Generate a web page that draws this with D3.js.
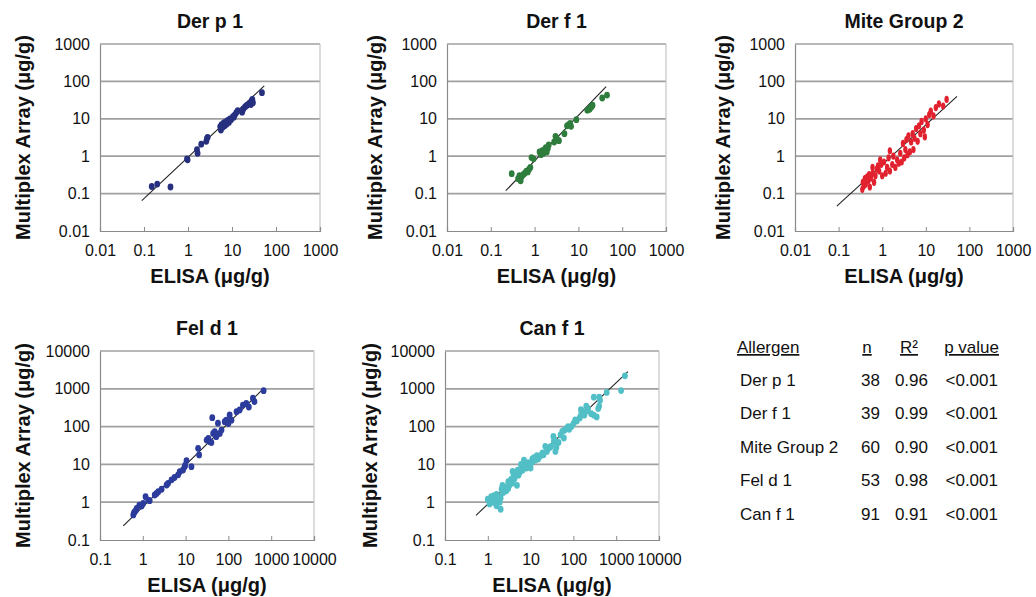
<!DOCTYPE html>
<html lang="en">
<head>
  <meta charset="UTF-8">
  <title>Multiplex Array vs ELISA</title>
  <script src="https://d3js.org/d3.v7.min.js"></script>
  <style>
    body {
      margin: 0;
      background: #fff;
      font-family: "Liberation Sans", Arial, sans-serif;
    }
    svg {
      display: block;
    }
    .grid line {
      stroke: #a0a0a0;
      stroke-width: 1.7;
    }
    .tick-label {
      font-size: 16px;
      fill: #111;
    }
    .panel-title, .axis-title {
      font-weight: bold;
      fill: #111;
    }
    .table text {
      font-size: 17px;
      fill: #111;
    }
  </style>
</head>
<body>
<svg width="1036" height="597"></svg>
<script>
  // Panel titles and colours
  const titles = ["Der p 1", "Der f 1", "Mite Group 2", "Fel d 1", "Can f 1"];
  const colors = ["#26307f", "#2e7d3c", "#e1222e", "#2b3c9c", "#52bfc6"];

  // Axis ticks (decades)
  const miteTicks = [0.01, 0.1, 1, 10, 100, 1000];
  const petTicks = [0.1, 1, 10, 100, 1000, 10000];

  // ELISA (x) vs Multiplex Array (y), ug/g
  const derP1 = [[0.15,0.155],[0.2,0.18],[0.4,0.15],[0.95,0.85],[0.98,0.8],[1.6,1.5],[1.65,1.2],
    [2.0,2.1],[2.6,2.5],[2.7,3.0],[2.8,3.2],[5.4,6.2],[5.6,5.0],[5.8,7.0],[6.2,6.0],[6.5,7.8],
    [6.8,6.5],[7.2,8.2],[7.5,7.2],[8.0,9.0],[8.5,8.0],[9.0,10],[9.5,9.5],[10.5,11.5],[11.5,12.5],
    [12.5,14.5],[13.5,16.5],[11,11],[17,15],[18,18],[20,21],[22,23],[25,26],[27,24],[28,30],
    [29,33],[30,27],[48,50]];

  const derF1 = [[0.3,0.34],[0.42,0.25],[0.45,0.3],[0.48,0.22],[0.5,0.28],[0.55,0.32],[0.6,0.35],
    [0.65,0.4],[0.7,0.38],[0.75,0.45],[0.8,0.5],[0.85,0.92],[0.95,0.85],[1.3,1.3],[1.4,1.1],
    [1.5,1.4],[1.6,1.2],[1.7,1.5],[1.8,1.7],[2.0,1.6],[1.9,1.3],[2.1,2.0],[2.8,2.4],[3.0,3.4],
    [3.2,3.0],[3.6,2.6],[4.8,4.0],[5.5,6.5],[6.0,7.0],[6.5,7.5],[6.8,6.3],[9,9.5],[16,17],
    [18,18],[19,20],[20,21],[21,23],[35,36],[45,43]];

  const miteGroup2 = [[0.35,0.13],[0.36,0.2],[0.38,0.16],[0.4,0.25],[0.42,0.18],[0.45,0.28],
    [0.48,0.22],[0.5,0.32],[0.52,0.15],[0.55,0.26],[0.6,0.35],[0.6,0.5],[0.65,0.2],[0.7,0.3],
    [0.75,0.45],[0.8,0.55],[0.85,0.4],[0.9,0.8],[0.95,0.6],[1.0,0.3],[1.1,0.7],[1.2,0.35],
    [1.3,0.5],[1.4,0.9],[1.5,1.4],[1.5,0.4],[1.7,0.6],[1.8,1.0],[2.0,0.5],[2.2,0.8],[2.4,0.65],
    [2.6,1.2],[2.8,0.7],[3.0,2.2],[3.2,0.9],[3.4,1.5],[3.6,2.8],[3.8,1.1],[4.0,3.5],[4.3,1.3],
    [4.6,2.4],[5.0,4.0],[5.2,1.5],[5.5,3.0],[6.0,5.5],[6.5,2.5],[7.0,6.5],[7.5,4.0],[8.0,8.5],
    [9.0,5.0],[9.5,3.3],[10,10],[11,7],[12,13],[13,16],[15,12],[17,20],[20,25],[25,22],[30,33]];

  const felD1 = [[0.6,0.46],[0.62,0.52],[0.65,0.56],[0.7,0.62],[0.72,0.69],[0.83,0.84],[0.94,0.79],
    [1.02,0.93],[1.16,1.4],[1.34,1.14],[1.45,1.1],[1.9,1.55],[2.1,1.7],[2.3,1.9],[2.75,2.2],
    [3.6,2.85],[3.9,3.15],[4.7,3.9],[5.5,4.5],[6.7,5.3],[7.3,6.4],[8.7,7.1],[9.5,8.7],[10.5,12.6],
    [9.8,9.5],[13.7,8.7],[19.6,26.6],[20.7,17.8],[31,44],[34,49],[37,40],[42,172],[44,66],[48,73],
    [52,54],[57,123],[63,66],[69,81],[55,62],[82,135],[89,149],[107,203],[118,148],[100,120],
    [155,248],[183,275],[218,370],[262,412],[374,562],[406,460],[665,890],[300,330],[40,38]];

  const canF1 = [[1.0,1.2],[1.1,0.9],[1.2,1.0],[1.2,1.4],[1.3,1.1],[1.4,1.5],[1.5,1.3],[1.5,0.95],
    [1.6,1.6],[1.6,0.8],[1.7,1.2],[1.8,1.4],[1.9,1.0],[2.0,0.65],[2.0,1.3],[2.1,2.2],[2.2,2.8],
    [2.3,1.8],[2.5,2.5],[2.7,2.0],[3.0,2.3],[3.0,3.5],[3.2,2.8],[3.5,4.0],[3.8,6.5],[3.8,3.2],
    [4.0,5.0],[4.2,4.2],[4.5,6.0],[4.8,2.8],[5.0,7.0],[5.2,5.2],[5.5,6.0],[6.0,8.0],[6.0,10],
    [6.5,7.0],[7.0,13],[7.0,9.0],[7.5,10.5],[8.0,8.0],[8.5,11],[9.0,11],[10,10],[10,8.0],[11,12],
    [11,14],[12,15],[13,13],[14,17],[15,14],[16,16],[17,17],[19,20],[20,18],[22,30],[24,22],
    [25,25],[28,28],[30,30],[34,55],[35,40],[36,45],[38,22],[40,28],[45,38],[50,60],[55,75],
    [60,50],[62,80],[70,90],[75,100],[80,85],[90,100],[100,120],[110,150],[120,140],[140,170],
    [150,200],[150,280],[160,260],[180,200],[200,350],[210,260],[220,300],[260,220],[300,600],
    [300,200],[350,180],[380,300],[400,350],[400,600],[420,500],[600,800],[1300,900],[1600,2200]];

  // Trend line end points [x0, y0, x1, y1]
  const fits = [
    [0.089, 0.065, 54, 76],
    [0.22, 0.12, 43, 73],
    [0.091, 0.046, 52, 40],
    [0.35, 0.235, 665, 1020],
    [0.53, 0.45, 1880, 2840]
  ];

  // Summary table
  const tableAllergen = ["Der p 1", "Der f 1", "Mite Group 2", "Fel d 1", "Can f 1"];
  const tableN = [38, 39, 60, 53, 91];
  const tableR2 = ["0.96", "0.99", "0.90", "0.98", "0.91"];
  const tableP = ["<0.001", "<0.001", "<0.001", "<0.001", "<0.001"];

  const datasets = [derP1, derF1, miteGroup2, felD1, canF1];

  // Plot-area boxes (pixels)
  const boxes = [
    {l: 100, r: 320, t: 44, b: 231, ticks: miteTicks, yt: 23},
    {l: 447, r: 666, t: 44, b: 231, ticks: miteTicks, yt: 375},
    {l: 795, r: 1013, t: 44, b: 231, ticks: miteTicks, yt: 723},
    {l: 100, r: 314, t: 351, b: 540, ticks: petTicks, yt: 23},
    {l: 445, r: 659, t: 351, b: 540, ticks: petTicks, yt: 370}
  ];

  const svg = d3.select("svg");

  boxes.forEach((bx, i) => {
    const ticks = bx.ticks;
    const dom = [ticks[0], ticks[ticks.length - 1]];
    const x = d3.scaleLog().domain(dom).range([bx.l, bx.r]);
    const y = d3.scaleLog().domain(dom).range([bx.b, bx.t]);
    const g = svg.append("g");

    // horizontal gridlines
    g.append("g").attr("class", "grid")
      .selectAll("line")
      .data(ticks.slice(1))
      .join("line")
      .attr("x1", bx.l).attr("x2", bx.r)
      .attr("y1", d => y(d)).attr("y2", d => y(d));

    // right border
    g.append("line")
      .attr("x1", bx.r).attr("x2", bx.r).attr("y1", bx.t).attr("y2", bx.b)
      .attr("stroke", "#c4c4c4").attr("stroke-width", 1.2);

    // axes
    const xAxis = d3.axisBottom(x).tickValues(ticks).tickSize(-4).tickFormat(d => String(d)).tickPadding(10);
    const xg = g.append("g").attr("transform", `translate(0,${bx.b})`).call(xAxis);
    xg.select(".domain").attr("stroke", "#8a8a8a").attr("stroke-width", 1.2);
    xg.selectAll(".tick line").attr("stroke", "#8a8a8a");
    xg.selectAll(".tick text").attr("class", "tick-label").attr("font-family", null)
      .attr("font-size", null).attr("dy", "0.95em");

    const yAxis = d3.axisLeft(y).tickValues(ticks).tickSize(0).tickFormat(d => String(d)).tickPadding(10);
    const yg = g.append("g").attr("transform", `translate(${bx.l},0)`).call(yAxis);
    yg.select(".domain").attr("stroke", "#8a8a8a").attr("stroke-width", 1.2);
    yg.selectAll(".tick text").attr("class", "tick-label").attr("font-family", null)
      .attr("font-size", null);

    // trend line
    const f = fits[i];
    g.append("line")
      .attr("x1", x(f[0])).attr("y1", y(f[1]))
      .attr("x2", x(f[2])).attr("y2", y(f[3]))
      .attr("stroke", "#222").attr("stroke-width", 1.1);

    // points
    const narrow = i === 2;
    g.append("g")
      .selectAll("ellipse")
      .data(datasets[i])
      .join("ellipse")
      .attr("cx", d => x(d[0]))
      .attr("cy", d => y(d[1]))
      .attr("rx", narrow ? 2.2 : 2.9)
      .attr("ry", narrow ? 3.6 : 3.4)
      .attr("fill", colors[i]);

    // titles
    g.append("text").attr("class", "panel-title")
      .attr("x", (bx.l + bx.r) / 2).attr("y", bx.t - 16)
      .attr("text-anchor", "middle").attr("font-size", 19.5)
      .text(titles[i]);

    g.append("text").attr("class", "axis-title")
      .attr("x", (bx.l + bx.r) / 2).attr("y", bx.b + 52)
      .attr("text-anchor", "middle").attr("font-size", 20)
      .text("ELISA (\u03bcg/g)");

    g.append("text").attr("class", "axis-title")
      .attr("transform", `translate(${bx.yt},${(bx.t + bx.b) / 2}) rotate(-90)`)
      .attr("text-anchor", "middle").attr("dominant-baseline", "central")
      .attr("font-size", 20)
      .text("Multiplex Array (\u03bcg/g)");
  });

  // Summary table
  const tbl = svg.append("g").attr("class", "table");
  const rowY = d3.scaleLinear().domain([0, 1]).range([385.5, 419]);
  const headers = [
    {t: "Allergen", x: 737, anchor: "start"},
    {t: "n", x: 867, anchor: "middle"},
    {t: "R\u00b2", x: 909, anchor: "middle"},
    {t: "p value", x: 999, anchor: "end"}
  ];
  headers.forEach(h => {
    tbl.append("text").attr("x", h.x).attr("y", 353)
      .attr("text-anchor", h.anchor).attr("text-decoration", "underline").text(h.t);
  });
  tableAllergen.forEach((a, i) => {
    tbl.append("text").attr("x", 740).attr("y", rowY(i)).text(a);
    tbl.append("text").attr("x", 880).attr("y", rowY(i)).attr("text-anchor", "end").text(tableN[i]);
    tbl.append("text").attr("x", 928).attr("y", rowY(i)).attr("text-anchor", "end").text(tableR2[i]);
    tbl.append("text").attr("x", 998).attr("y", rowY(i)).attr("text-anchor", "end").text(tableP[i]);
  });
</script>
</body>
</html>
